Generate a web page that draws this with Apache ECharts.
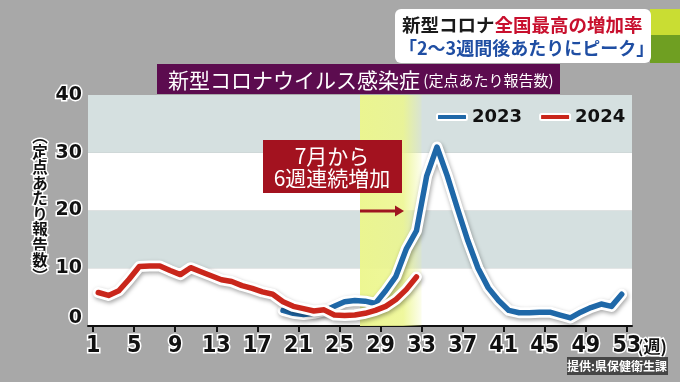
<!DOCTYPE html>
<html><head><meta charset="utf-8">
<script src="https://cdn.jsdelivr.net/npm/echarts@6/dist/echarts.min.js"></script>
<style>html,body{margin:0;padding:0;background:#a8a8a8;}#c{width:680px;height:382px;}</style>
</head><body><div id="c"></div>
<script>
// ---- data ----
const weekLabels = ['1','2','3','4','5','6','7','8','9','10','11','12','13','14','15','16','17','18','19','20','21','22','23','24','25','26','27','28','29','30','31','32','33','34','35','36','37','38','39','40','41','42','43','44','45','46','47','48','49','50','51','52','53'];
const values2023 = [null,null,null,null,null,null,null,null,null,null,null,null,null,null,null,null,null,null,
  2.7,2.2,2.0,2.2,2.6,3.4,4.2,4.4,4.3,3.9,6.1,8.6,13.3,16.5,26.0,31.0,26.0,20.3,14.8,10.0,6.6,4.4,2.7,2.3,2.3,2.4,2.4,1.9,1.4,2.4,3.2,3.8,3.4,5.5];
const values2024 = [5.8,5.3,6.1,8.1,10.3,10.4,10.4,9.6,8.9,10.1,9.4,8.7,8.0,7.7,7.0,6.5,5.9,5.5,4.2,3.4,3.0,2.6,2.8,1.9,1.8,1.9,2.2,2.7,3.4,4.6,6.3,8.5];
const yTicks = [0,10,20,30,40];
const highlightWeeks = [26.5, 32.5];
const seriesNames = ['2023','2024'];

const toPairs = arr => arr.map((v,i)=>[i+1, v]);
const JP = '"Noto Sans CJK JP", "Noto Sans", sans-serif';
const C23 = '#1f68a8', C24 = '#c9261b';

const chart = echarts.init(document.getElementById('c'));
function outline(name, arr){
  return {type:'line', name:name+'-o', xAxisIndex:0, data:toPairs(arr), symbol:'none', silent:true, z:3,
    lineStyle:{color:'#ffffff', width:11, cap:'round', join:'round', shadowColor:'rgba(0,0,0,0.35)', shadowBlur:4, shadowOffsetX:1, shadowOffsetY:2}};
}
function main(name, arr, color, z){
  return {type:'line', name:name, xAxisIndex:0, data:toPairs(arr), symbol:'none', z:z, color:color,
    lineStyle:{color:color, width:5.5, cap:'round', join:'round'}};
}
chart.setOption({
  backgroundColor:'#a8a8a8',
  animation:false,
  grid:{left:88, right:48, top:95, bottom:56},
  legend:{data:seriesNames, left:431, top:103, icon:'roundRect', itemWidth:30, itemHeight:6, itemGap:17,
    itemStyle:{borderColor:'#fff', borderWidth:2},
    textStyle:{fontFamily:'"DejaVu Sans", sans-serif', fontWeight:'bold', fontSize:18, color:'#111'}},
  xAxis:[
    {type:'value', min:0, max:53, show:false},
    {type:'category', data:weekLabels, boundaryGap:true, position:'bottom',
      axisLine:{show:true, lineStyle:{color:'#111', width:2}},
      axisTick:{show:true, interval:3, alignWithLabel:true, length:6, lineStyle:{color:'#111', width:2}},
      axisLabel:{interval:3, margin:9, fontFamily:'"Liberation Sans Narrow", "DejaVu Sans Condensed", sans-serif', fontWeight:'bold', fontSize:23, color:'#111', textBorderColor:'#fff', textBorderWidth:3},
      splitLine:{show:false}}
  ],
  yAxis:{type:'value', min:yTicks[0], max:yTicks[yTicks.length-1], interval:10,
    axisLine:{show:false}, axisTick:{show:false}, splitLine:{show:false},
    splitArea:{show:true, areaStyle:{color:['#ffffff','#d5e0e0']}},
    axisLabel:{margin:6, fontFamily:'"DejaVu Sans", sans-serif', fontWeight:'bold', fontSize:19, color:'#111', textBorderColor:'#fff', textBorderWidth:3,
      formatter: v => v===0 ? '{z|0}' : String(v),
      rich:{z:{fontFamily:'"DejaVu Sans", sans-serif', fontWeight:'bold', fontSize:19, color:'#111', textBorderColor:'#fff', textBorderWidth:3, padding:[0,0,16,0]}}}},
  series:[
    {type:'line', name:'hl', xAxisIndex:0, data:[], z:1, silent:true,
      markArea:{silent:true, itemStyle:{color:{type:'linear', x:0, y:0, x2:1, y2:0, colorStops:[
        {offset:0, color:'rgba(236,246,140,0.95)'},{offset:0.7, color:'rgba(236,246,140,0.85)'},{offset:1, color:'rgba(236,246,140,0.15)'}]}},
        data:[[{xAxis:highlightWeeks[0]},{xAxis:highlightWeeks[1]}]]}},
    outline(seriesNames[0], values2023),
    main(seriesNames[0], values2023, C23, 4),
    Object.assign(outline(seriesNames[1], values2024), {z:5}),
    main(seriesNames[1], values2024, C24, 6)
  ],
  graphic:[
    // top banner
    {type:'rect', shape:{x:650, y:9, width:30, height:26}, style:{fill:'#c9dd33'}},
    {type:'rect', shape:{x:650, y:35, width:30, height:28}, style:{fill:'#6f9f22'}},
    {type:'rect', shape:{x:395, y:9, width:256, height:54, r:6}, style:{fill:'#ffffff'}},
    {type:'text', x:402, y:25, style:{text:'{a|新型コロナ}{b|全国最高の増加率}', verticalAlign:'middle',
      rich:{a:{fontFamily:JP, fontWeight:'bold', fontSize:18.5, fill:'#1a1a1a'}, b:{fontFamily:JP, fontWeight:'bold', fontSize:18.5, fill:'#c8102e'}}}},
    {type:'text', x:399, y:48, style:{text:'「2～3週間後あたりにピーク」', fontFamily:JP, fontWeight:'bold', fontSize:18, fill:'#1f4ea3', verticalAlign:'middle'}},
    // title bar
    {type:'rect', shape:{x:157, y:64, width:403, height:30}, style:{fill:'#5c0c4f'}},
    {type:'text', x:168, y:80, style:{text:'{a|新型コロナウイルス感染症}{b| (定点あたり報告数)}', verticalAlign:'middle',
      rich:{a:{fontFamily:JP, fontSize:21, fill:'#fff'}, b:{fontFamily:JP, fontSize:15, fill:'#fff'}}}},
    // annotation
    {type:'rect', z:50, shape:{x:263, y:140, width:139, height:53}, style:{fill:'#a3121f'}},
    {type:'text', z:51, x:332, y:167, style:{text:'7月から\n6週連続増加', fontFamily:JP, fontSize:21, lineHeight:22, fill:'#fff', align:'center', verticalAlign:'middle'}},
    {type:'line', z:50, shape:{x1:360, y1:211, x2:396, y2:211}, style:{stroke:'#9e1520', lineWidth:3}},
    {type:'polygon', z:50, shape:{points:[[395,205.5],[404,211],[395,216.5]]}, style:{fill:'#9e1520'}},
    // y name (vertical)
    {type:'text', x:40, y:206, style:{text:'︵\n定\n点\nあ\nた\nり\n報\n告\n数\n︶', fontFamily:JP, fontWeight:'bold', fontSize:15.5, lineHeight:15.5,
      fill:'#111', stroke:'#fff', lineWidth:3, align:'center', verticalAlign:'middle'}},
    // week unit
    {type:'text', x:637, y:347, style:{text:'(週)', fontFamily:JP, fontWeight:'bold', fontSize:17, fill:'#111', stroke:'#fff', lineWidth:3, verticalAlign:'middle'}},
    // credit
    {type:'rect', shape:{x:567, y:357, width:101, height:18}, style:{fill:'rgba(45,45,45,0.8)'}},
    {type:'text', x:617, y:366, style:{text:'提供:県保健衛生課', fontFamily:JP, fontWeight:'bold', fontSize:12, fill:'#fff', align:'center', verticalAlign:'middle'}}
  ]
});
</script></body></html>
